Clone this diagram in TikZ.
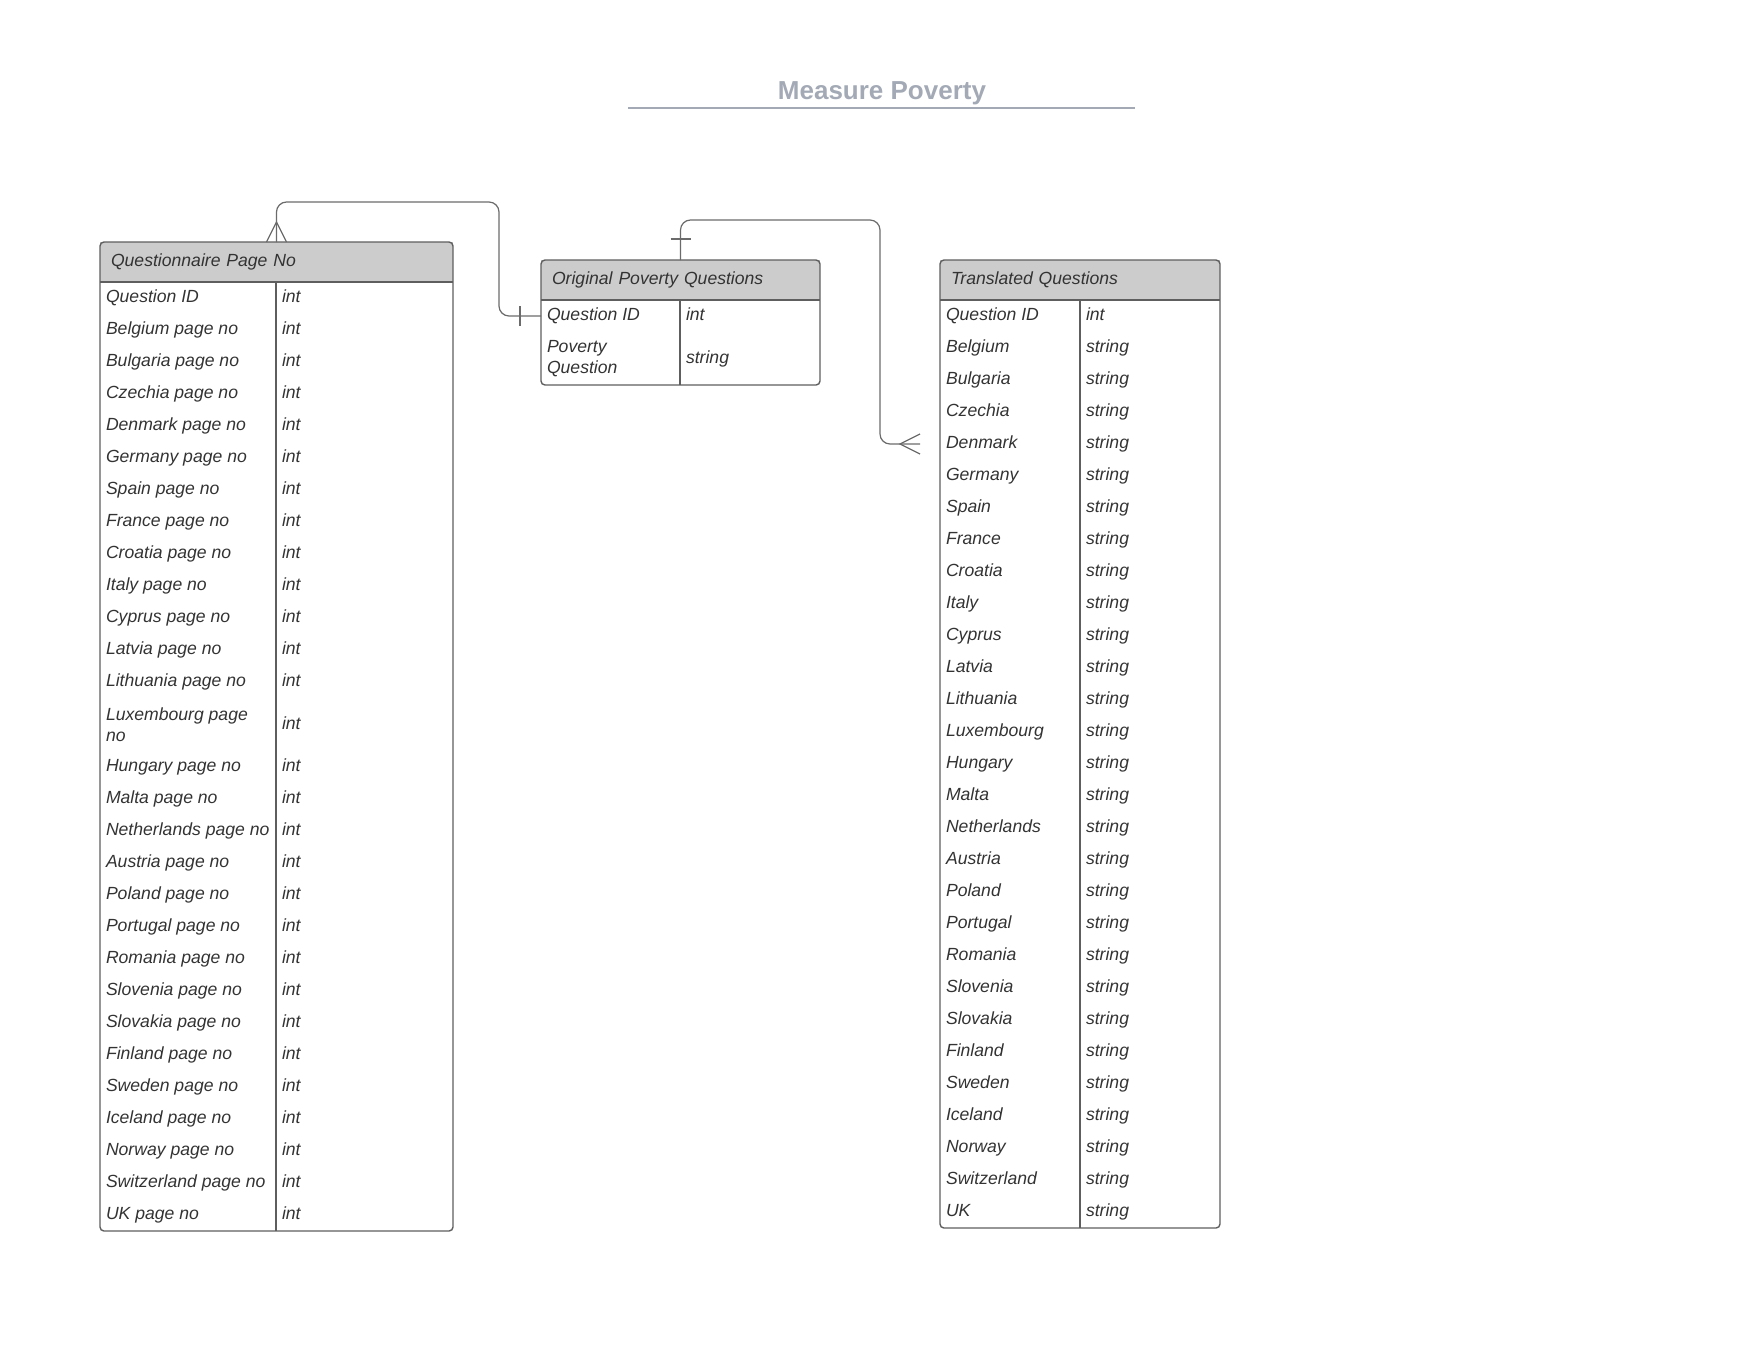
\documentclass[tikz,border=0pt]{standalone}
\usepackage{fontspec}
\setmainfont{Liberation Sans}
\definecolor{hdrgrey}{HTML}{CCCCCC}
\definecolor{bordergrey}{HTML}{5E5E5E}
\definecolor{linegrey}{HTML}{6B6B6B}
\definecolor{txtgrey}{HTML}{333333}
\definecolor{titlegrey}{HTML}{A3AAB5}
\newcommand{\tblfont}{\fontsize{8.8pt}{10.3pt}\selectfont\itshape}
\begin{document}
\begin{tikzpicture}[x=0.5pt,y=-0.5pt,
  tblline/.style={draw=bordergrey, line width=0.7pt},
  hdr/.style={fill=hdrgrey, anchor=north west, inner xsep=5.5pt, inner ysep=0pt, outer sep=0pt, minimum height=20pt, align=left, font=\tblfont, text=txtgrey},
  wrapcell/.style={anchor=west, inner xsep=3pt, inner ysep=0pt, outer sep=0pt, align=left, font=\tblfont, text=txtgrey},
  cell/.style={wrapcell, text height=6.6pt, text depth=1.9pt},
  conn/.style={draw=linegrey, line width=0.6pt}]
\useasboundingbox (0,0) rectangle (1760,1360);

% title
\node[font=\bfseries\fontsize{13pt}{15pt}\selectfont, text=titlegrey, anchor=base] (title) at (882,99) {Measure Poverty};
\draw[titlegrey, line width=1pt] (628,108) -- (1135,108);

% Questionnaire Page No
\node[hdr, text width=165.5pt] (qpn) at (100,242) {Questionnaire Page No};
\foreach \f [count=\i from 0] in {Question ID, Belgium page no, Bulgaria page no, Czechia page no, Denmark page no, Germany page no, Spain page no, France page no, Croatia page no, Italy page no, Cyprus page no, Latvia page no, Lithuania page no} {
  \pgfmathsetmacro\yy{298+32*\i}
  \node[cell] (qpn-f\i) at (100,\yy) {\f};
  \node[cell] (qpn-t\i) at (276,\yy) {int};
}
\node[wrapcell] (qpn-f13) at (100,724.5) {Luxembourg page\\no};
\node[cell] (qpn-t13) at (276,724.5) {int};
\foreach \f [count=\i from 14] in {Hungary page no, Malta page no, Netherlands page no, Austria page no, Poland page no, Portugal page no, Romania page no, Slovenia page no, Slovakia page no, Finland page no, Sweden page no, Iceland page no, Norway page no, Switzerland page no, UK page no} {
  \pgfmathsetmacro\yy{319+32*\i}
  \node[cell] (qpn-f\i) at (100,\yy) {\f};
  \node[cell] (qpn-t\i) at (276,\yy) {int};
}
\draw[tblline, rounded corners=2pt] (qpn.north west) rectangle (453,1231);
\draw[tblline] (qpn.south west) -- (qpn.south east);
\draw[tblline] (276,282) -- (276,1231);

% Original Poverty Questions
\node[hdr, text width=128.5pt] (opq) at (541,260) {Original Poverty Questions};
\node[cell] (opq-f0) at (541,316) {Question ID};
\node[cell] (opq-t0) at (680,316) {int};
\node[wrapcell] (opq-f1) at (541,358.5) {Poverty\\Question};
\node[cell] (opq-t1) at (680,358.5) {string};
\draw[tblline, rounded corners=2pt] (opq.north west) rectangle (820,385);
\draw[tblline] (opq.south west) -- (opq.south east);
\draw[tblline] (680,300) -- (680,385);

% Translated Questions
\node[hdr, text width=129pt] (trq) at (940,260) {Translated Questions};
\node[cell] (trq-f0) at (940,316) {Question ID};
\node[cell] (trq-t0) at (1080,316) {int};
\foreach \c [count=\i] in {Belgium, Bulgaria, Czechia, Denmark, Germany, Spain, France, Croatia, Italy, Cyprus, Latvia, Lithuania, Luxembourg, Hungary, Malta, Netherlands, Austria, Poland, Portugal, Romania, Slovenia, Slovakia, Finland, Sweden, Iceland, Norway, Switzerland, UK} {
  \pgfmathsetmacro\yy{316+32*\i}
  \node[cell] (trq-f\i) at (940,\yy) {\c};
  \node[cell] (trq-t\i) at (1080,\yy) {string};
}
\draw[tblline, rounded corners=2pt] (trq.north west) rectangle (1220,1228);
\draw[tblline] (trq.south west) -- (trq.south east);
\draw[tblline] (1080,300) -- (1080,1228);

% relations
\draw[conn, rounded corners=5pt] (qpn.north) |- (499,202) |- (opq-f0.west);
\draw[conn] ([xshift=-5pt]qpn.north) -- ++(10,-20) -- ++(10,20);
\draw[conn] ([xshift=-10.5pt]opq-f0.west) ++(0,-10) -- ++(0,20);

\draw[conn, rounded corners=5pt, shorten >=10pt] (opq.north) |- (880,220) |- (trq-f4.west);
\draw[conn] ([yshift=10.5pt]opq.north) ++(-10,0) -- ++(20,0);
\draw[conn] ([xshift=-10pt,yshift=5pt]trq-f4.west) -- ++(-20,10) -- ++(20,10);
\end{tikzpicture}
\end{document}
